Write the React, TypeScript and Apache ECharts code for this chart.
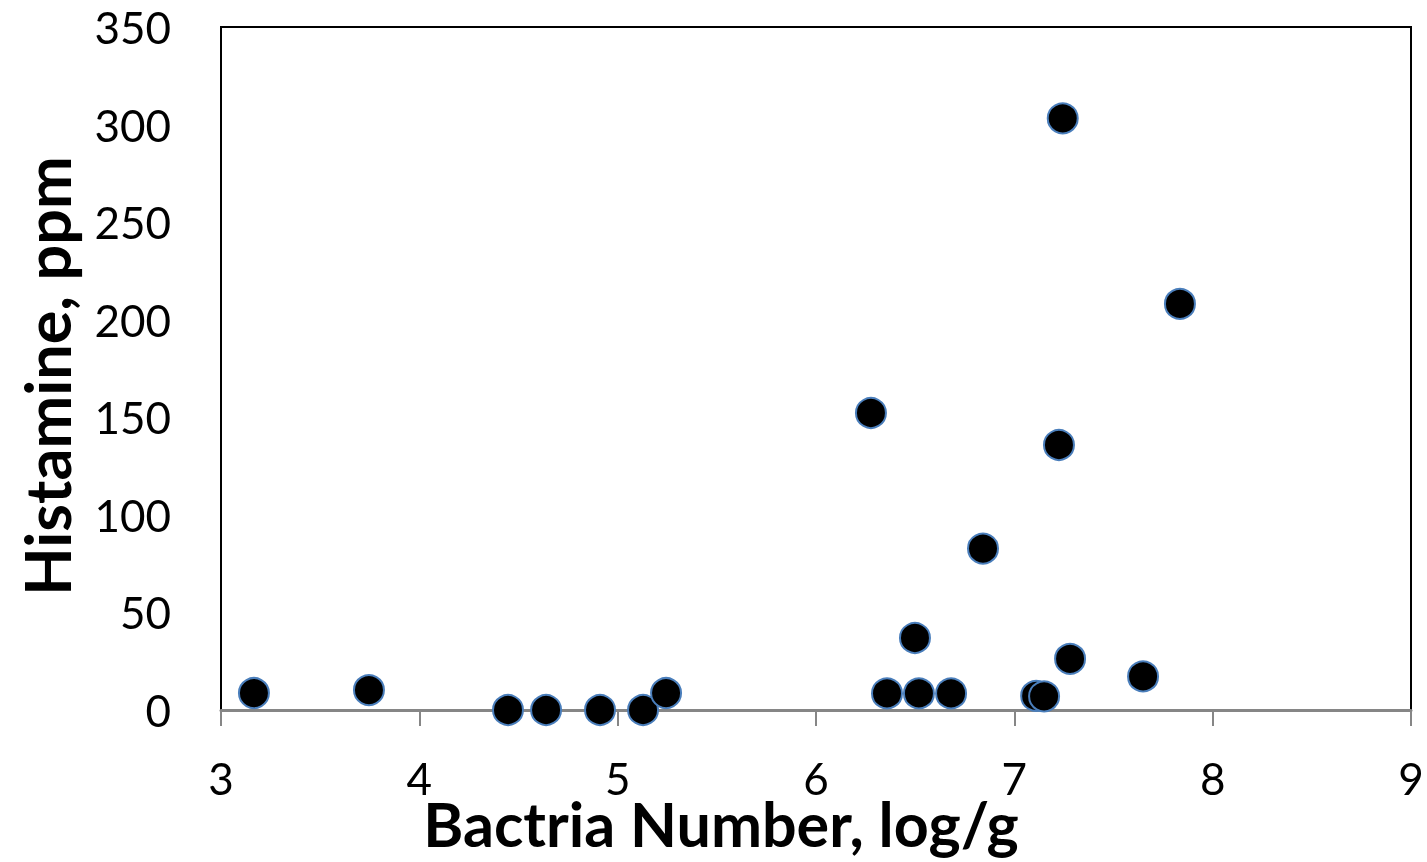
import React, { useEffect, useRef } from "react";
import * as echarts from "echarts";

const bacteria = [3.166, 3.746, 4.447, 4.639, 4.911, 5.128, 5.244, 6.277, 6.358, 6.519, 6.681, 6.499, 6.842, 7.11, 7.15, 7.225, 7.244, 7.281, 7.649, 7.835];
const histamine = [8.7, 10.2, 0, 0, 0, 0, 8.7, 152.2, 8.5, 8.5, 8.5, 36.9, 82.7, 7.2, 7.0, 135.8, 303.2, 26.2, 17.2, 208.1];

const xTitle = "Bactria Number, log/g";
const yTitle = "Histamine, ppm";

export default function App() {
  const ref = useRef<HTMLDivElement>(null);
  useEffect(() => {
    const chart = echarts.init(ref.current!, null, { renderer: "svg" });
    const font = "Lato, 'Open Sans', sans-serif";
    chart.setOption({
      animation: false,
      grid: {
        left: 221,
        right: 16,
        top: 27,
        bottom: 152,
        show: true,
        borderColor: "#000",
        borderWidth: 2,
        backgroundColor: "#fff",
      },
      graphic: [
        {
          type: "text",
          x: 721,
          y: 823,
          style: {
            text: xTitle,
            fontFamily: font,
            fontSize: 61,
            lineHeight: 44,
            fontWeight: "bold",
            fill: "#000",
            align: "center",
            verticalAlign: "middle",
          },
        },
        {
          type: "text",
          x: 46,
          y: 376,
          rotation: Math.PI / 2,
          style: {
            text: yTitle,
            fontFamily: font,
            fontSize: 63,
            lineHeight: 48,
            fontWeight: "bold",
            fill: "#000",
            align: "center",
            verticalAlign: "middle",
          },
        },
      ],
      xAxis: {
        type: "value",
        min: 3,
        max: 9,
        interval: 1,
        axisLine: { show: true, onZero: false, lineStyle: { color: "#868686", width: 3 } },
        axisTick: { show: true, inside: false, length: 16, lineStyle: { color: "#868686", width: 2 } },
        axisLabel: { fontFamily: font, fontSize: 44, lineHeight: 34, color: "#000", margin: 51 },
        splitLine: { show: false },
      },
      yAxis: {
        type: "value",
        min: 0,
        max: 350,
        interval: 50,
        axisLine: { show: true, lineStyle: { color: "#000", width: 2 } },
        axisTick: { show: false },
        axisLabel: { fontFamily: font, fontSize: 44, color: "#000", margin: 50 },
        splitLine: { show: false },
      },
      series: [
        {
          type: "scatter",
          data: bacteria.map((x, i) => [x, histamine[i]]),
          symbol: "circle",
          symbolSize: 30,
          itemStyle: { color: "#000", borderColor: "#4a7ebb", borderWidth: 2, opacity: 1 },
        },
      ],
    });
    return () => chart.dispose();
  }, []);
  return (
    <div
      ref={ref}
      style={{ position: "fixed", left: 0, top: 0, width: 1427, height: 862 }}
    />
  );
}
